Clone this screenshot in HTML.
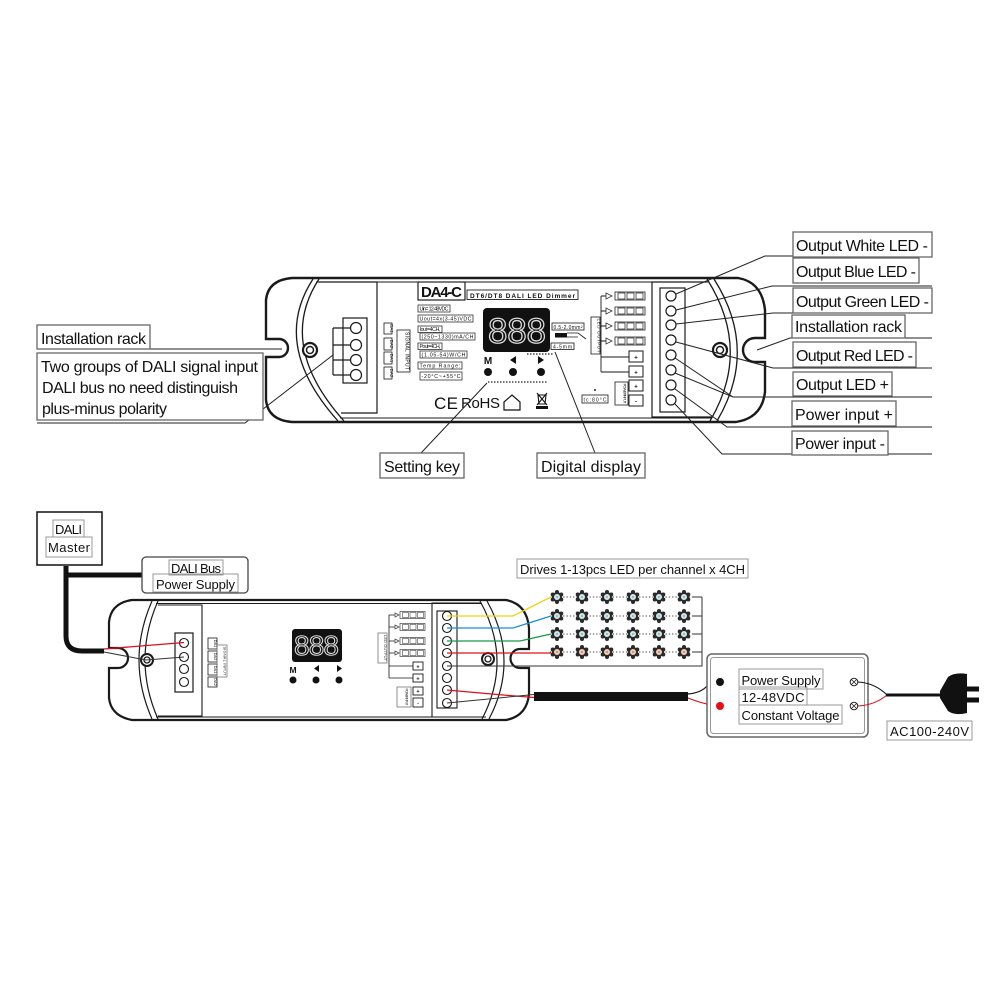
<!DOCTYPE html>
<html><head><meta charset="utf-8"><style>
html,body{margin:0;padding:0;background:#fff;}
svg{display:block;}
text{font-family:"Liberation Sans",sans-serif;}
</style></head><body>
<svg width="1000" height="1000" viewBox="0 0 1000 1000" xmlns="http://www.w3.org/2000/svg">
<rect width="1000" height="1000" fill="#fff"/>
<defs>
<g id="ledb">
<circle r="5" fill="#2a2a2a"/>
<circle cx="0" cy="-5" r="2" fill="#2a2a2a"/><circle cx="4.3" cy="-2.5" r="2" fill="#2a2a2a"/><circle cx="4.3" cy="2.5" r="2" fill="#2a2a2a"/>
<circle cx="0" cy="5" r="2" fill="#2a2a2a"/><circle cx="-4.3" cy="2.5" r="2" fill="#2a2a2a"/><circle cx="-4.3" cy="-2.5" r="2" fill="#2a2a2a"/>
<circle r="3" fill="#d3e8ea"/><circle r="1" fill="#8aa"/>
</g>
<g id="ledr">
<circle r="5" fill="#2a2a2a"/>
<circle cx="0" cy="-5" r="2" fill="#2a2a2a"/><circle cx="4.3" cy="-2.5" r="2" fill="#2a2a2a"/><circle cx="4.3" cy="2.5" r="2" fill="#2a2a2a"/>
<circle cx="0" cy="5" r="2" fill="#2a2a2a"/><circle cx="-4.3" cy="2.5" r="2" fill="#2a2a2a"/><circle cx="-4.3" cy="-2.5" r="2" fill="#2a2a2a"/>
<circle r="3" fill="#f2cdb8"/><circle r="1" fill="#b87"/>
</g>
<g id="conn">
<rect x="0" y="-4" width="30" height="8" fill="#fff" stroke="#222" stroke-width="0.8"/>
<rect x="3" y="-3" width="7" height="6" fill="none" stroke="#222" stroke-width="0.7"/>
<rect x="12" y="-3" width="7" height="6" fill="none" stroke="#222" stroke-width="0.7"/>
<rect x="21" y="-3" width="7" height="6" fill="none" stroke="#222" stroke-width="0.7"/>
</g>
<g id="connS">
<rect x="0" y="-3.5" width="25" height="7" fill="#fff" stroke="#444" stroke-width="0.7"/>
<rect x="2.5" y="-2.5" width="6" height="5" fill="none" stroke="#444" stroke-width="0.6"/>
<rect x="10" y="-2.5" width="6" height="5" fill="none" stroke="#444" stroke-width="0.6"/>
<rect x="17.5" y="-2.5" width="6" height="5" fill="none" stroke="#444" stroke-width="0.6"/>
</g>
</defs>

<!-- ================= TOP DEVICE ================= -->
<g fill="none" stroke="#1a1a1a">
<path stroke-width="2.4" d="M292 278 H738 Q762 282 765 310 V338 H755 A12 12 0 0 0 755 362 H765 V392 Q762 418 736 422 H292 Q268 420 266 400 V357 H279 A9 9 0 0 0 279 339 H266 V300 Q268 280 292 278 Z"/>
<line x1="316" y1="282" x2="708" y2="282" stroke-width="1"/>
<line x1="340" y1="418" x2="712" y2="418" stroke-width="1"/>
<path stroke-width="1.3" d="M313 279 Q270 345 338 421"/>
<path stroke-width="1.3" d="M319 279 Q276 345 344 421"/>
<path stroke-width="1.2" d="M319 282 H377 V413 H341"/>
<path stroke-width="1.3" d="M707 279 Q752 350 710 421"/>
<path stroke-width="1.3" d="M714 279 Q759 350 717 421"/>
<!-- screws -->
<circle cx="310" cy="350" r="7" stroke-width="2.2" fill="#fff"/>
<circle cx="310" cy="350" r="3.5" stroke-width="1.5"/>
<circle cx="720" cy="350" r="7" stroke-width="2.2" fill="#fff"/>
<circle cx="720" cy="350" r="3.5" stroke-width="1.5"/>
<!-- left terminal -->
<rect x="343" y="318" width="24" height="65" stroke-width="1.2"/>
<g stroke-width="1.2">
<circle cx="356" cy="328" r="5.5"/><circle cx="356" cy="345" r="5.5"/><circle cx="356" cy="360" r="5.5"/><circle cx="356" cy="375" r="5.5"/>
<path d="M333 328 V375 M333 328 H350.5 M333 345 H350.5 M333 360 H350.5 M333 375 H350.5"/>
</g>
<!-- signal input boxes -->
<g stroke-width="0.8">
<rect x="384" y="323" width="8" height="11"/><rect x="384" y="338" width="8" height="12"/>
<rect x="384" y="352" width="8" height="12"/><rect x="384" y="367" width="8" height="12"/>
<rect x="397" y="330" width="13" height="42"/>
</g>
<!-- right terminal -->
<path stroke-width="1.2" d="M706 282 H652 V417 H712"/>
<rect x="660" y="288" width="25" height="124" stroke-width="1.2"/>
<g stroke-width="1.2">
<circle cx="671" cy="296" r="5"/><circle cx="671" cy="311" r="5"/><circle cx="671" cy="325" r="5"/><circle cx="671" cy="340" r="5"/>
<circle cx="671" cy="355" r="5"/><circle cx="671" cy="370" r="5"/><circle cx="671" cy="385" r="5"/><circle cx="671" cy="400" r="5"/>
</g>
<!-- LED output -->
<rect x="591" y="317" width="9" height="37" stroke-width="0.8"/>
<path stroke-width="0.9" d="M601 296 V372 M601 296 H606 M601 311 H606 M601 326 H606 M601 341 H606 M601 357 H629 M601 372 H629"/>
<rect x="629" y="351" width="14" height="11" stroke-width="1"/>
<rect x="629" y="366" width="14" height="11" stroke-width="1"/>
<rect x="629" y="380" width="14" height="11" stroke-width="1"/>
<rect x="629" y="395" width="14" height="11" stroke-width="1"/>
<rect x="615" y="382" width="13" height="23" stroke-width="0.8"/>
<rect x="582" y="395" width="26" height="8" stroke-width="0.8"/>
<rect x="552" y="323" width="32" height="7" stroke-width="0.8"/>
<rect x="551" y="343" width="23" height="6.5" stroke-width="0.8"/>
<path stroke-width="0.8" d="M567 333 H578 L586 339 M567 337 H578"/>
</g>
<rect x="555" y="333" width="12" height="4.5" fill="#111"/>
<g fill="none" stroke="#333" stroke-width="0.8">
<path d="M606 293 L612 296 L606 299 Z M606 308 L612 311 L606 314 Z M606 323 L612 326 L606 329 Z M606 338 L612 341 L606 344 Z"/>
</g>
<use href="#conn" x="615" y="296"/><use href="#conn" x="615" y="311"/>
<use href="#conn" x="615" y="326"/><use href="#conn" x="615" y="341"/>
<circle cx="595" cy="390" r="1" fill="#222"/>
<g font-size="6" font-weight="bold" fill="#111" text-anchor="middle">
<text x="636" y="359.5">+</text><text x="636" y="374.5">+</text><text x="636" y="388.5">+</text><text x="636" y="403.5">-</text>
</g>
<text x="595" y="401.5" font-size="5" fill="#111" text-anchor="middle" textLength="23">tc:80°C</text>
<text x="568" y="328.8" font-size="5" fill="#111" text-anchor="middle" textLength="29">0.5-2.0mm²</text>
<text x="562.5" y="348.3" font-size="5" fill="#111" text-anchor="middle" textLength="19">4-5mm</text>
<text transform="translate(597.5 335.5) rotate(90)" font-size="4.5" fill="#111" text-anchor="middle" textLength="34">LED OUTPUT</text>
<text transform="translate(623.5 393.5) rotate(90)" font-size="4" fill="#111" text-anchor="middle" textLength="20">POWER INPUT</text>
<text transform="translate(405.5 351) rotate(90)" font-size="5" fill="#111" text-anchor="middle" textLength="38">SIGNAL INPUT</text>
<g font-size="4.5" fill="#111" text-anchor="middle">
<text transform="translate(389.8 328.5) rotate(90)">DA1</text><text transform="translate(389.8 344) rotate(90)">DA2</text>
<text transform="translate(389.8 358) rotate(90)">DA1</text><text transform="translate(389.8 373) rotate(90)">DA2</text>
</g>
<!-- model and specs -->
<rect x="418" y="282" width="47" height="18" fill="none" stroke="#222" stroke-width="1.2"/>
<text x="421" y="297" font-size="15" font-weight="bold" fill="#111" textLength="41">DA4-C</text>
<rect x="467" y="290" width="111" height="9.5" fill="none" stroke="#222" stroke-width="0.9"/>
<text x="470" y="297.8" font-size="6.5" font-weight="bold" fill="#111" textLength="105">DT6/DT8 DALI LED Dimmer</text>
<g fill="none" stroke="#333" stroke-width="0.8">
<rect x="418" y="305" width="32" height="7"/><rect x="418" y="315" width="55" height="7"/>
<rect x="418" y="326" width="24" height="6.5"/><rect x="420" y="333" width="55" height="7"/>
<rect x="418" y="343" width="24" height="6.5"/><rect x="420" y="351" width="47" height="7"/>
<rect x="418" y="362" width="44" height="7"/><rect x="420" y="372" width="42" height="8"/>
</g>
<g font-size="5.3" fill="#111">
<text x="419.5" y="310.5" textLength="29">Uin= 12-48VDC</text>
<text x="419.5" y="320.5" textLength="52">Uout=4x(3-45)VDC</text>
<text x="419.5" y="331" textLength="21">Iout=4CH,</text>
<text x="421.5" y="338.5" textLength="52">(250~1330)mA/CH</text>
<text x="419.5" y="348" textLength="21">Pout=4CH,</text>
<text x="421.5" y="356.5" textLength="44">(1.05-54)W/CH</text>
<text x="419.5" y="367.5" textLength="41">Temp Range:</text>
<text x="421.5" y="378" textLength="39">-20°C~+55°C</text>
</g>
<!-- display -->
<rect x="483" y="308" width="67" height="44" rx="4" fill="#111"/>
<text x="488" y="343" font-size="35" fill="#111" stroke="#d8d8d8" stroke-width="1.3" textLength="58">888</text>
<text x="488" y="364" font-size="10" font-weight="bold" fill="#111" text-anchor="middle">M</text>
<path d="M516 356 L510 360 L516 364 Z" fill="#111"/>
<path d="M538 356 L544 360 L538 364 Z" fill="#111"/>
<circle cx="488" cy="372" r="4" fill="#111"/><circle cx="513" cy="372" r="4" fill="#111"/><circle cx="541" cy="372" r="4" fill="#111"/>
<line x1="488" y1="382" x2="548" y2="382" stroke="#222" stroke-width="1.2" stroke-dasharray="1.5 1.5"/>
<line x1="527" y1="354" x2="553" y2="354" stroke="#222" stroke-width="1.2" stroke-dasharray="1.5 1.5"/>
<text x="434" y="409" font-size="17" fill="#111" textLength="24">CE</text>
<text x="461" y="408" font-size="15" fill="#111" textLength="39">RoHS</text>
<path d="M504 410 V402 L512 395 L520 402 V410 Z" fill="none" stroke="#111" stroke-width="1.2"/>
<path d="M537 393 L547 405 M547 393 L537 405 M538 395 H546 L545 404 H539 Z" fill="none" stroke="#111" stroke-width="1.1"/>
<rect x="536" y="406" width="12" height="3" fill="#111"/>

<!-- callout lines top -->
<g fill="none" stroke="#222" stroke-width="1">
<path d="M676 294 L765 256 H793"/>
<path d="M676 310 L772 286 H932"/>
<path d="M676 324 L773 313 H793"/>
<path d="M757 350 L790 338 H932"/>
<path d="M676 342 L773 368 H932"/>
<path d="M675 358 L733 397 M675 373 L733 397 H932"/>
<path d="M675 389 L727 427 H932"/>
<path d="M675 404 L722 454 H932"/>
<path d="M37 349 H282"/>
<path d="M37 423 H245 L333 355"/>
<path d="M421 453 L487 383"/>
<path d="M595 453 L555 352"/>
</g>
<!-- right labels -->
<g fill="#fff" stroke="#666" stroke-width="1.3">
<rect x="793" y="232" width="139" height="25"/>
<rect x="793" y="258" width="126" height="25"/>
<rect x="793" y="288" width="139" height="25"/>
<rect x="792" y="315" width="113" height="23"/>
<rect x="793" y="342" width="123" height="25"/>
<rect x="793" y="372" width="99" height="24"/>
<rect x="792" y="401" width="104" height="25"/>
<rect x="792" y="431" width="96" height="24"/>
<rect x="37" y="325" width="113" height="24"/>
<rect x="37" y="353" width="226" height="67"/>
<rect x="380" y="453" width="84" height="25"/>
<rect x="537" y="453" width="108" height="25"/>
</g>
<g font-size="16" fill="#111">
<text x="796" y="251" textLength="132">Output White LED -</text>
<text x="796" y="277" textLength="120">Output Blue LED -</text>
<text x="796" y="307" textLength="133">Output Green LED -</text>
<text x="795" y="332" textLength="107">Installation rack</text>
<text x="796" y="361" textLength="117">Output Red LED -</text>
<text x="796" y="390" textLength="93">Output LED +</text>
<text x="795" y="420" textLength="98">Power input +</text>
<text x="795" y="449" textLength="90">Power input -</text>
<text x="41" y="344" textLength="105">Installation rack</text>
<text x="41" y="372" textLength="217">Two groups of DALI signal input</text>
<text x="42" y="393" textLength="196">DALI bus no need distinguish</text>
<text x="42" y="414" textLength="125">plus-minus polarity</text>
<text x="384" y="472" textLength="76">Setting key</text>
<text x="541" y="472" textLength="100">Digital display</text>
</g>

<!-- ================= BOTTOM DIAGRAM ================= -->
<!-- DALI master -->
<rect x="37" y="512" width="65" height="53" fill="#fff" stroke="#111" stroke-width="1.5"/>
<rect x="53" y="520" width="31" height="17" fill="none" stroke="#999" stroke-width="1"/>
<rect x="46" y="537" width="46" height="20" fill="none" stroke="#999" stroke-width="1"/>
<text x="55" y="534" font-size="13" fill="#111" textLength="27">DALI</text>
<text x="48" y="552" font-size="13" fill="#111" textLength="42">Master</text>
<!-- cable -->
<path d="M66 566 V636 Q66 651 82 651 H104" fill="none" stroke="#111" stroke-width="5"/>
<path d="M66 575 H142" fill="none" stroke="#111" stroke-width="5"/>
<rect x="142" y="557" width="106" height="36" rx="4" fill="#fff" stroke="#444" stroke-width="1.3"/>
<rect x="169" y="560" width="54" height="15" fill="none" stroke="#999" stroke-width="1"/>
<rect x="153" y="574" width="85" height="18" fill="none" stroke="#999" stroke-width="1"/>
<text x="171" y="573" font-size="13" fill="#111" textLength="50">DALI Bus</text>
<text x="156" y="589" font-size="13" fill="#111" textLength="79">Power Supply</text>

<!-- bottom device -->
<g fill="none" stroke="#1a1a1a">
<path stroke-width="2.2" d="M132 600 H506 Q527 604 529 628 V649 H520 A9.5 9.5 0 0 0 520 668 H529 V694 Q527 716 506 720 H132 Q111 716 109 698 V668 H118 A10 10 0 0 0 118 648 H109 V622 Q111 603 132 600 Z"/>
<line x1="156" y1="603.5" x2="482" y2="603.5" stroke-width="1"/>
<line x1="156" y1="717" x2="486" y2="717" stroke-width="1"/>
<path stroke-width="1.2" d="M152 601 Q126 660 152 719"/>
<path stroke-width="1.2" d="M158 601 Q132 660 158 719"/>
<path stroke-width="1.1" d="M158 605 H202 V716 H158"/>
<path stroke-width="1.2" d="M480 601 Q513 660 482 719"/>
<path stroke-width="1.2" d="M487 601 Q520 660 489 719"/>
<circle cx="147" cy="660" r="6" stroke-width="2" fill="#fff"/>
<circle cx="147" cy="660" r="3" stroke-width="1.3"/>
<circle cx="488" cy="659" r="6" stroke-width="2" fill="#fff"/>
<circle cx="488" cy="659" r="3" stroke-width="1.3"/>
<rect x="175" y="633" width="18" height="59" stroke-width="1.2"/>
<g stroke-width="1.1">
<circle cx="184" cy="643" r="4.5"/><circle cx="184" cy="657" r="4.5"/><circle cx="184" cy="669" r="4.5"/><circle cx="184" cy="682" r="4.5"/>
</g>
<g stroke-width="0.8">
<rect x="208" y="638" width="9" height="11"/><rect x="208" y="651" width="9" height="11"/>
<rect x="208" y="664" width="9" height="11"/><rect x="208" y="677" width="9" height="10"/>
<rect x="217" y="645" width="10" height="32" stroke="#777"/>
</g>
<path stroke-width="1.1" d="M480 603 H432 V717 H484"/>
<rect x="437" y="611" width="20" height="97" stroke-width="1.1"/>
<g stroke-width="1.1">
<circle cx="447" cy="616" r="4.5"/><circle cx="447" cy="628" r="4.5"/><circle cx="447" cy="641" r="4.5"/><circle cx="447" cy="653" r="4.5"/>
<circle cx="447" cy="666" r="4.5"/><circle cx="447" cy="678" r="4.5"/><circle cx="447" cy="690" r="4.5"/><circle cx="447" cy="703" r="4.5"/>
</g>
<rect x="378" y="633" width="9" height="30" stroke-width="0.8" stroke="#777"/>
<path stroke-width="0.8" d="M389 615 V678 M389 615 H395 M389 627 H395 M389 641 H395 M389 653 H395 M389 666 H413 M389 678 H413"/>
<rect x="413" y="662" width="10" height="8" stroke-width="0.9"/>
<rect x="413" y="674" width="10" height="8" stroke-width="0.9"/>
<rect x="413" y="687" width="10" height="8" stroke-width="0.9"/>
<rect x="413" y="698" width="10" height="9" stroke-width="0.9"/>
<rect x="397" y="687" width="14" height="20" stroke-width="0.8" stroke="#777"/>
<path stroke-width="0.7" stroke="#444" d="M395 613 L399 615 L395 617 Z M395 625 L399 627 L395 629 Z M395 639 L399 641 L395 643 Z M395 651 L399 653 L395 655 Z"/>
</g>
<use href="#connS" x="400" y="615"/><use href="#connS" x="400" y="627"/>
<use href="#connS" x="400" y="641"/><use href="#connS" x="400" y="653"/>
<g font-size="5.5" font-weight="bold" fill="#111" text-anchor="middle">
<text x="418" y="668.5">+</text><text x="418" y="680.5">+</text><text x="418" y="693">+</text><text x="418" y="704.5">-</text>
</g>
<text transform="translate(383.8 648) rotate(90)" font-size="4" fill="#333" text-anchor="middle" textLength="26">LED OUTPUT</text>
<text transform="translate(405.5 697) rotate(90)" font-size="3.5" fill="#333" text-anchor="middle" textLength="17">POWER INPUT</text>
<text transform="translate(223.5 661) rotate(90)" font-size="4" fill="#333" text-anchor="middle" textLength="29">SIGNAL INPUT</text>
<g font-size="4" fill="#111" text-anchor="middle">
<text transform="translate(214 643.5) rotate(90)">DA1</text><text transform="translate(214 656.5) rotate(90)">DA2</text>
<text transform="translate(214 669.5) rotate(90)">DA1</text><text transform="translate(214 682) rotate(90)">DA2</text>
</g>
<rect x="292" y="629" width="50" height="33" rx="3" fill="#111"/>
<text x="294" y="655" font-size="28" fill="#111" stroke="#d8d8d8" stroke-width="1.1" textLength="45">888</text>
<text x="293" y="673" font-size="8.5" font-weight="bold" fill="#111" text-anchor="middle">M</text>
<path d="M319 665 L314 668.5 L319 672 Z" fill="#111"/>
<path d="M337 665 L342 668.5 L337 672 Z" fill="#111"/>
<circle cx="293" cy="680" r="3.5" fill="#111"/><circle cx="316" cy="680" r="3.5" fill="#111"/><circle cx="339" cy="680" r="3.5" fill="#111"/>

<!-- DALI wires into device -->
<path d="M104 649 L184 642.5" stroke="#d8101c" stroke-width="1.3" fill="none"/>
<path d="M104 652 L146 660 L184 657" stroke="#333" stroke-width="1" fill="none"/>

<!-- LEDs -->
<g stroke="#444" stroke-width="1" stroke-dasharray="1.3 2">
<line x1="550" y1="597" x2="694" y2="597"/><line x1="550" y1="616" x2="694" y2="616"/>
<line x1="550" y1="634" x2="694" y2="634"/><line x1="550" y1="652" x2="694" y2="652"/>
</g>
<g fill="none" stroke-width="1.3">
<path d="M447 616 H513 L551 597" stroke="#f0cf1c"/>
<path d="M447 628 H513 L551 616" stroke="#1a8ed4"/>
<path d="M447 641 H520 L551 634" stroke="#1a9a48"/>
<path d="M447 653 H551" stroke="#e0101c"/>
<path d="M447 666 H702 V597 M692 597 H702 M692 616 H702 M692 634 H702 M692 652 H702" stroke="#333" stroke-width="1"/>
</g>
<g>
<use href="#ledb" x="557" y="597"/><use href="#ledb" x="582" y="597"/><use href="#ledb" x="607" y="597"/><use href="#ledb" x="633" y="597"/><use href="#ledb" x="659" y="597"/><use href="#ledb" x="684" y="597"/>
<use href="#ledb" x="557" y="616"/><use href="#ledb" x="582" y="616"/><use href="#ledb" x="607" y="616"/><use href="#ledb" x="633" y="616"/><use href="#ledb" x="659" y="616"/><use href="#ledb" x="684" y="616"/>
<use href="#ledb" x="557" y="634"/><use href="#ledb" x="582" y="634"/><use href="#ledb" x="607" y="634"/><use href="#ledb" x="633" y="634"/><use href="#ledb" x="659" y="634"/><use href="#ledb" x="684" y="634"/>
<use href="#ledr" x="557" y="652"/><use href="#ledr" x="582" y="652"/><use href="#ledr" x="607" y="652"/><use href="#ledr" x="633" y="652"/><use href="#ledr" x="659" y="652"/><use href="#ledr" x="684" y="652"/>
</g>
<rect x="517" y="559" width="231" height="19" fill="none" stroke="#999" stroke-width="1"/>
<text x="520" y="574" font-size="13" fill="#111" textLength="225">Drives 1-13pcs LED per channel x 4CH</text>

<!-- power wires & cable -->
<path d="M447 690 Q490 694 534 697.5" stroke="#d8101c" stroke-width="1.2" fill="none"/>
<path d="M447 703 L534 694.5" stroke="#333" stroke-width="1" fill="none"/>
<rect x="534" y="692" width="154" height="9" fill="#111"/>
<path d="M688 694 Q700 693 706 687 L716 683" stroke="#111" stroke-width="1.2" fill="none"/>
<path d="M688 698 Q700 703 716 706" stroke="#d8101c" stroke-width="1.2" fill="none"/>

<!-- power supply -->
<rect x="707" y="654" width="161" height="83" rx="5" fill="#fff" stroke="#666" stroke-width="1.5"/>
<rect x="710.5" y="657.5" width="154" height="76" rx="3" fill="none" stroke="#999" stroke-width="1"/>
<circle cx="720" cy="682" r="4" fill="#111"/>
<circle cx="720" cy="706" r="4" fill="#e0101c"/>
<rect x="739" y="669" width="84" height="20" fill="none" stroke="#999" stroke-width="1"/>
<rect x="739" y="687" width="68" height="18" fill="none" stroke="#999" stroke-width="1"/>
<rect x="739" y="705" width="103" height="19" fill="none" stroke="#999" stroke-width="1"/>
<text x="741.5" y="685" font-size="13" fill="#111" textLength="79">Power Supply</text>
<text x="741.5" y="702" font-size="13" fill="#111" textLength="63">12-48VDC</text>
<text x="741.5" y="720" font-size="13" fill="#111" textLength="98">Constant Voltage</text>
<g fill="#fff" stroke="#222" stroke-width="1">
<circle cx="854" cy="682" r="3.8"/><circle cx="854" cy="706" r="3.8"/>
</g>
<path d="M851.5 679.5 L856.5 684.5 M856.5 679.5 L851.5 684.5 M851.5 703.5 L856.5 708.5 M856.5 703.5 L851.5 708.5" stroke="#222" stroke-width="0.8"/>
<path d="M858 682 Q875 683 887 695" stroke="#111" stroke-width="1.1" fill="none"/>
<path d="M858 706 Q875 705 887 695" stroke="#d8101c" stroke-width="1.1" fill="none"/>
<path d="M886 695 H942" stroke="#111" stroke-width="3"/>
<path d="M940 691 L948 677 Q955 672 967 674 V713 Q955 716 948 711 L940 698 Z" fill="#111"/>
<rect x="967" y="686.5" width="12" height="5" fill="#111"/>
<rect x="967" y="697.5" width="12" height="5" fill="#111"/>
<rect x="887" y="721" width="85" height="19" fill="#fff" stroke="#999" stroke-width="1"/>
<text x="890" y="736" font-size="13" fill="#111" textLength="79">AC100-240V</text>
</svg>
</body></html>
